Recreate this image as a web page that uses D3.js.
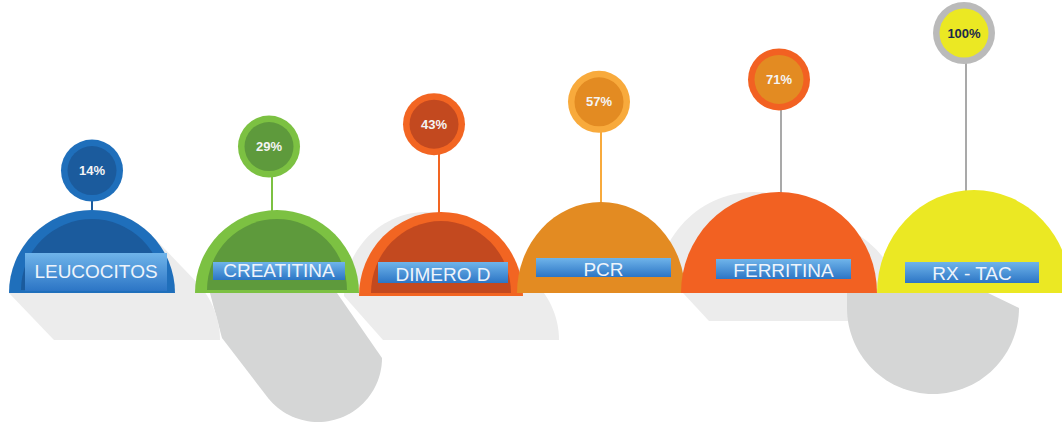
<!DOCTYPE html>
<html>
<head>
<meta charset="utf-8">
<script src="https://cdn.jsdelivr.net/npm/d3@7"></script>
<style>
  html, body { margin: 0; padding: 0; background: #fff; }
  svg { display: block; }
</style>
</head>
<body>
<script>
// datos
const categories = ['LEUCOCITOS', 'CREATITINA', 'DIMERO D', 'PCR', 'FERRITINA', 'RX - TAC'];
const values     = [14, 29, 43, 57, 71, 100];

// colores por item: borde, interior
const outerColors = ['#1f6fbb', '#7cc142', '#f26522', '#e38b22', '#f26122', '#ebe823'];
const innerColors = ['#1b5b9d', '#5e9a3c', '#c3491f', null, null, null];
const ringColors  = ['#1f6fbb', '#7cc142', '#f26522', '#f8aa3c', '#f26122', '#bababa'];
const dotColors   = ['#1b5b9d', '#5e9a3c', '#c3491f', '#e38b22', '#e38b22', '#ebe823'];
const stemColors  = ['#1b5b9d', '#7cc142', '#f26522', '#f8aa3c', '#a9a9a9', '#a9a9a9'];

const width  = 1062;
const height = 423;

// geometria de cada cupula (posiciones, no datos)
const domes = [
  {cx: 92,  base: 293, rx: 83, ry: 83,  px: 92,  sx: 92},
  {cx: 277, base: 293, rx: 82, ry: 83,  px: 269, sx: 272},
  {cx: 441, base: 296, rx: 82, ry: 84,  px: 434, sx: 439},
  {cx: 601, base: 293, rx: 84, ry: 91,  px: 599, sx: 601},
  {cx: 779, base: 293, rx: 98, ry: 101, px: 779, sx: 781},
  {cx: 974, base: 293, rx: 97, ry: 103, px: 964, sx: 966}
];
const boxes = [
  {x0: 25,  x1: 167,  y0: 253, y1: 291, ty: 278},
  {x0: 213, x1: 345,  y0: 262, y1: 280, ty: 277},
  {x0: 378, x1: 508,  y0: 262, y1: 283, ty: 281},
  {x0: 536, x1: 671,  y0: 258, y1: 277, ty: 276},
  {x0: 716, x1: 851,  y0: 259, y1: 279, ty: 277},
  {x0: 905, x1: 1039, y0: 262, y1: 283, ty: 280}
];
// SOMBRAS (en orden de dibujo): cada una es el casco convexo de sus partes
const LIGHT = '#ececec';
const DARK  = '#d5d6d6';
const shadows = [
  {i: 1, fill: DARK,  parts: [{t: 'seg', x0: -67, x1: 60, dy: 0}, {t: 'pt', dx: -55, dy: 45},
                              {t: 'down', dx: 41, dy: 65, r: 64}]},
  {i: 0, fill: LIGHT, parts: [{t: 'up', dx: 0, dy: 0}, {t: 'up', dx: 45, dy: 47}]},
  {i: 2, fill: LIGHT, parts: [{t: 'up', dx: -15, dy: 0}, {t: 'up', dx: 30, dy: 44, rx: 88}]},
  {i: 4, fill: LIGHT, parts: [{t: 'up', dx: -25, dy: 0}]},
  {i: 4, fill: LIGHT, parts: [{t: 'seg', x0: -96, x1: 0, dy: 0}, {t: 'up', dx: 28, dy: 28}]},
  {i: 5, fill: DARK,  parts: [{t: 'seg', x0: -127, x1: 14, dy: 0}, {t: 'down', dx: -41, dy: 15, r: 86}]}
];

const y = d3.scaleLinear().domain([0, 100]).range([193, 33]);
const ringR = 31;
const dotR  = 24.5;

const svg = d3.select('body').append('svg')
    .attr('width', width)
    .attr('height', height);

const defs = svg.append('defs');
const grad = defs.append('linearGradient')
    .attr('id', 'lblGrad')
    .attr('x1', 0).attr('y1', 0).attr('x2', 0).attr('y2', 1);
grad.append('stop').attr('offset', '0%').attr('stop-color', '#6fb4ea');
grad.append('stop').attr('offset', '100%').attr('stop-color', '#2c75c5');

const halfPath = (cx, base, rx, ry) =>
  'M' + (cx - rx) + ',' + base +
  'A' + rx + ',' + ry + ' 0 0 1 ' + (cx + rx) + ',' + base + 'Z';

const shapePoints = (d, p) => {
  const pts = [];
  const n = 60;
  if (p.t === 'up') {
    const rx = p.rx || d.rx, ry = p.ry || d.ry;
    for (let k = 0; k <= n; k++) {
      const a = Math.PI * k / n;
      pts.push([d.cx + p.dx - rx * Math.cos(a), d.base + p.dy - ry * Math.sin(a)]);
    }
  } else if (p.t === 'down') {
    for (let k = 0; k <= n; k++) {
      const a = Math.PI * k / n;
      pts.push([d.cx + p.dx - p.r * Math.cos(a), d.base + p.dy + p.r * Math.sin(a)]);
    }
  } else if (p.t === 'pt') {
    pts.push([d.cx + p.dx, d.base + p.dy]);
  } else {
    pts.push([d.cx + p.x0, d.base + p.dy], [d.cx + p.x1, d.base + p.dy]);
  }
  return pts;
};

svg.append('g').attr('class', 'shadows')
  .selectAll('path')
  .data(shadows)
  .enter().append('path')
  .attr('fill', s => s.fill)
  .attr('d', s => {
    const d = domes[s.i];
    let pts = [];
    s.parts.forEach(p => { pts = pts.concat(shapePoints(d, p)); });
    return 'M' + d3.polygonHull(pts).join('L') + 'Z';
  });

const items = categories.map((label, i) => ({label, value: values[i], i}));

// tallos
svg.append('g').selectAll('line')
  .data(items)
  .enter().append('line')
  .attr('x1', d => domes[d.i].sx)
  .attr('y1', d => y(d.value) + ringR - 3)
  .attr('x2', d => domes[d.i].sx)
  .attr('y2', d => {
    const g = domes[d.i];
    const t = (g.sx - g.cx) / g.rx;
    return g.base - g.ry * Math.sqrt(1 - t * t) + 2;
  })
  .attr('stroke', d => stemColors[d.i])
  .attr('stroke-width', 2);

// cupulas
const dome = svg.append('g').selectAll('g')
  .data(items)
  .enter().append('g');

dome.append('path')
  .attr('d', d => {
    const g = domes[d.i];
    return halfPath(g.cx, g.base, g.rx, g.ry);
  })
  .attr('fill', d => outerColors[d.i]);

dome.filter(d => innerColors[d.i])
  .append('path')
  .attr('d', d => {
    const g = domes[d.i];
    return halfPath(g.cx, g.base - 3, g.rx - 12, g.ry - 12);
  })
  .attr('fill', d => innerColors[d.i]);

// etiquetas
dome.append('rect')
  .attr('x', d => boxes[d.i].x0)
  .attr('y', d => boxes[d.i].y0)
  .attr('width', d => boxes[d.i].x1 - boxes[d.i].x0)
  .attr('height', d => boxes[d.i].y1 - boxes[d.i].y0)
  .attr('fill', 'url(#lblGrad)');

dome.append('text')
  .attr('x', d => (boxes[d.i].x0 + boxes[d.i].x1) / 2)
  .attr('y', d => boxes[d.i].ty)
  .attr('text-anchor', 'middle')
  .style('font-family', '"Liberation Sans", Arial, sans-serif')
  .style('font-size', '19px')
  .style('fill', '#eef4fb')
  .text(d => d.label);

// circulos con porcentaje
const bubble = svg.append('g').selectAll('g')
  .data(items)
  .enter().append('g')
  .attr('transform', d => 'translate(' + domes[d.i].px + ',' + y(d.value) + ')');

bubble.append('circle')
  .attr('r', ringR)
  .attr('fill', d => ringColors[d.i]);

bubble.append('circle')
  .attr('r', dotR)
  .attr('fill', d => dotColors[d.i]);

bubble.append('text')
  .attr('text-anchor', 'middle')
  .attr('dy', '0.36em')
  .style('font-family', '"Liberation Sans", Arial, sans-serif')
  .style('font-weight', 'bold')
  .style('font-size', '13px')
  .style('fill', d => d.value === 100 ? '#1c2a4b' : '#f4f4f4')
  .text(d => d.value + '%');
</script>
</body>
</html>
